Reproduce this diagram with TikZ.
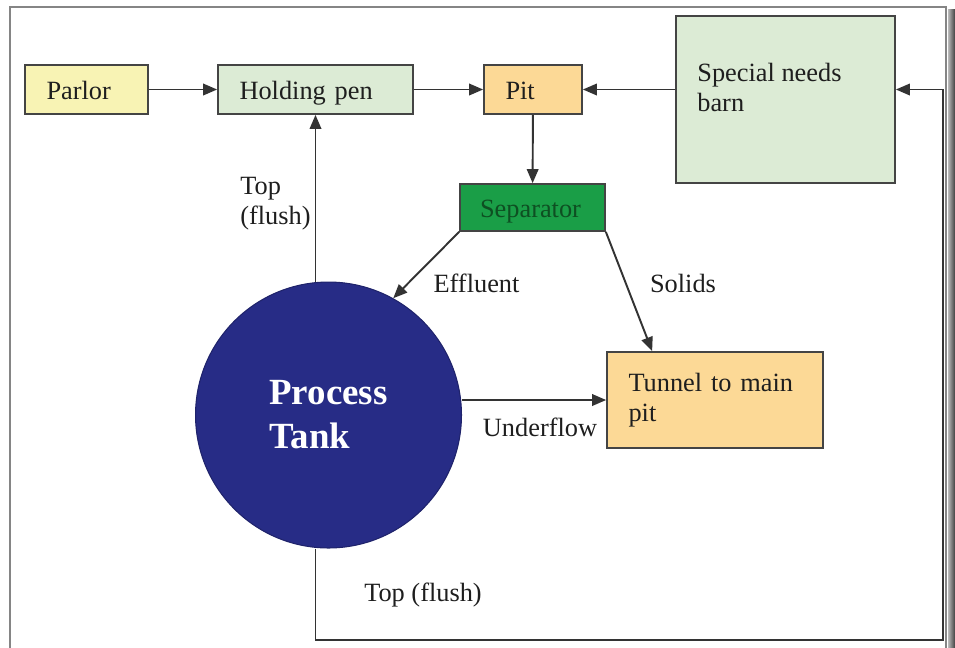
\documentclass[tikz,border=0pt]{standalone}
\usepackage{fontspec}
\setmainfont{Liberation Serif}
\usetikzlibrary{arrows.meta}

\definecolor{parlorfill}{HTML}{F8F3B4}
\definecolor{penfill}{HTML}{DCEBD5}
\definecolor{pitfill}{HTML}{FCD996}
\definecolor{sepfill}{HTML}{1A9E47}
\definecolor{septext}{HTML}{0E4F22}
\definecolor{tankfill}{HTML}{272C86}
\definecolor{boxline}{HTML}{444444}
\definecolor{linegray}{HTML}{333333}
\definecolor{txtgray}{HTML}{1E1E1E}
\definecolor{framegray}{HTML}{858585}

\begin{document}
\begin{tikzpicture}
           [x=0.02cm,y=-0.02cm,
            box/.style={draw=boxline, line width=1pt, inner xsep=0.43cm, inner ysep=0pt,
                        align=left, minimum height=0.98cm, text=txtgray,
                        font=\fontsize{15}{17}\selectfont},
            oneline/.style={box, text height=13pt, text depth=2pt},
            flow/.style={draw=linegray, line width=1.1pt, -{Triangle[length=0.28cm,width=0.23cm]}},
            lbl/.style={inner sep=0pt, align=left, text=txtgray, font=\fontsize{15}{17}\selectfont}]
           \useasboundingbox (0,0) rectangle (955,647);

           \draw[framegray, line width=0.05cm] (10,660) -- (10,7) -- (946,7) -- (946,660);
           \shade[left color=gray!55, right color=black!75] (948,9) rectangle (955,647);

           \node[oneline, fill=parlorfill, text width=1.60cm] (parlor) at (86.5,89.5) {Parlor};
           \node[oneline, fill=penfill, text width=3.04cm] (hold) at (315.5,89.5) {Holding pen};
           \node[oneline, fill=pitfill, text width=1.10cm] (pit) at (533,89.5) {Pit};
           \node[box, fill=penfill, text width=3.52cm, minimum height=3.34cm] (barn) at (785.5,99.5) {};
           \node[lbl, anchor=north west] (barntxt) at (697,63) {Special needs\\barn};
           \node[oneline, fill=sepfill, text=septext, inner xsep=0.4cm, text width=2.1cm,
                 minimum height=0.94cm] (sep) at (532.5,207.5) {Separator};
           \node[circle, fill=tankfill, draw=tankfill!80!black, line width=0.6pt,
                 minimum size=5.32cm, inner sep=0pt, align=left, text=white,
                 font=\fontsize{21}{25}\selectfont\bfseries] (tank) at (328.5,415) {Process\\Tank};
           \node[box, fill=pitfill, text width=3.46cm, minimum height=1.92cm] (tunnel) at (715,400)
                {Tunnel to main\\pit};

           \draw[flow] (parlor) -- (hold);
           \draw[flow] (hold) -- (pit);
           \draw[flow] (barn.west |- pit.east) -- (pit.east);
           \draw[flow] (pit) -- (sep);
           \draw[flow] (sep.south west) -- (tank.61);
           \draw[flow] (sep.south east) -- ([xshift=0.92cm]tunnel.north west);
           \draw[flow] (tank.east |- tunnel.west) -- (tunnel.west);
           \draw[flow] (tank.north -| hold.south) -- (hold.south);

           \coordinate (ret) at (943,640);
           \draw[flow] (tank.south -| hold.south) |- (ret) |- (barn.east |- pit.east);

           \node[lbl, anchor=north west] (topup) at (240,177) {Top\\(flush)};
           \node[lbl] (effl) at (476.5,283) {Effluent};
           \node[lbl] (solids) at (683,283) {Solids};
           \node[lbl] (under) at (540,427) {Underflow};
           \node[lbl] (topret) at (423,595) {Top (flush)};
         \end{tikzpicture}
\end{document}
